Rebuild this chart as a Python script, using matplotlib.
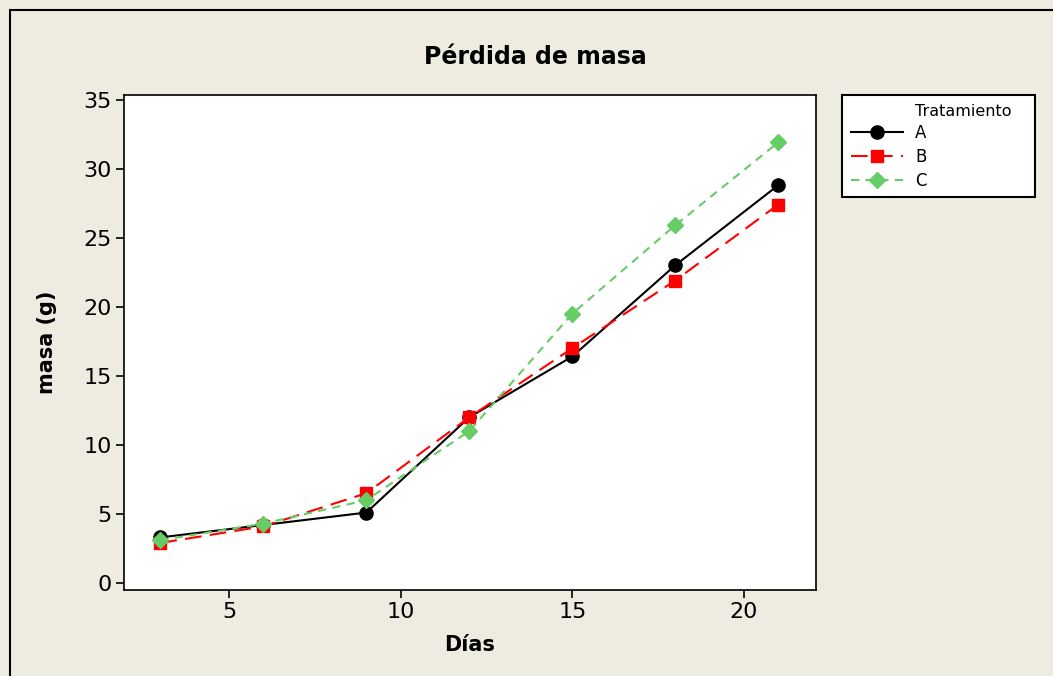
import matplotlib
matplotlib.use("Agg")
import matplotlib.pyplot as plt
from matplotlib.patches import Rectangle

dias = [3, 6, 9, 12, 15, 18, 21]
masa_A = [3.3, 4.2, 5.1, 12.0, 16.4, 23.0, 28.8]
masa_B = [2.9, 4.1, 6.5, 12.0, 17.0, 21.9, 27.4]
masa_C = [3.1, 4.3, 6.0, 11.0, 19.5, 25.9, 31.9]
xticks = [5, 10, 15, 20]
yticks = [0, 5, 10, 15, 20, 25, 30, 35]

W, H = 1053, 676
bg = "#EEEBE1"
fig = plt.figure(figsize=(W / 100, H / 100), dpi=100, facecolor=bg)

# outer frame (cropped on right/bottom)
fig.patches.append(Rectangle((10 / W, -0.1), 1.2, (H - 10) / H + 0.1, transform=fig.transFigure,
                             fill=False, edgecolor="black", linewidth=1.5, zorder=0))

ax = fig.add_axes([124 / W, 1 - 590 / H, (816 - 124) / W, (590 - 95) / H])
ax.set_facecolor("white")

ax.plot(dias, masa_A, color="black", linestyle="-", linewidth=1.5, marker="o", markersize=9.5, label="A", zorder=3)
ax.plot(dias, masa_B, color="#FF0000", linestyle=(0, (8, 4)), linewidth=1.5, marker="s", markersize=9, label="B", zorder=4)
ax.plot(dias, masa_C, color="#66CC66", linestyle=(0, (4, 3)), linewidth=1.5, marker="D", markersize=8.5, label="C", zorder=5)

ax.set_xlim(1.94, 22.1)
ax.set_ylim(-0.507, 35.33)
ax.set_xticks(xticks)
ax.set_yticks(yticks)
ax.tick_params(labelsize=16, length=6, width=1.2, color="black", pad=3)
for s in ax.spines.values():
    s.set_linewidth(1.2)

fig.text(535 / W, 1 - 57 / H, "Pérdida de masa", fontsize=17, fontweight="bold", ha="center", va="center")
ax.set_xlabel("Días", fontsize=15, fontweight="bold", labelpad=9)
ax.set_ylabel("masa (g)", fontsize=15, fontweight="bold", labelpad=19)

# legend box
fig.patches.append(Rectangle((842 / W, 1 - 197 / H), (1035 - 842) / W, (197 - 95) / H,
                             transform=fig.transFigure, facecolor="white", edgecolor="black",
                             linewidth=1.5, zorder=1))
fig.text(915 / W, 1 - 111 / H, "Tratamiento", fontsize=11.5, ha="left", va="center", zorder=3)
leg = fig.legend(loc="upper left", bbox_to_anchor=(851 / W, 1 - 124 / H),
                 fontsize=12, frameon=False, handlelength=3.1, handletextpad=0.75,
                 borderpad=0, labelspacing=0.35, borderaxespad=0)
leg.set_zorder(4)

fig.savefig("out.png", dpi=100, facecolor=bg)
